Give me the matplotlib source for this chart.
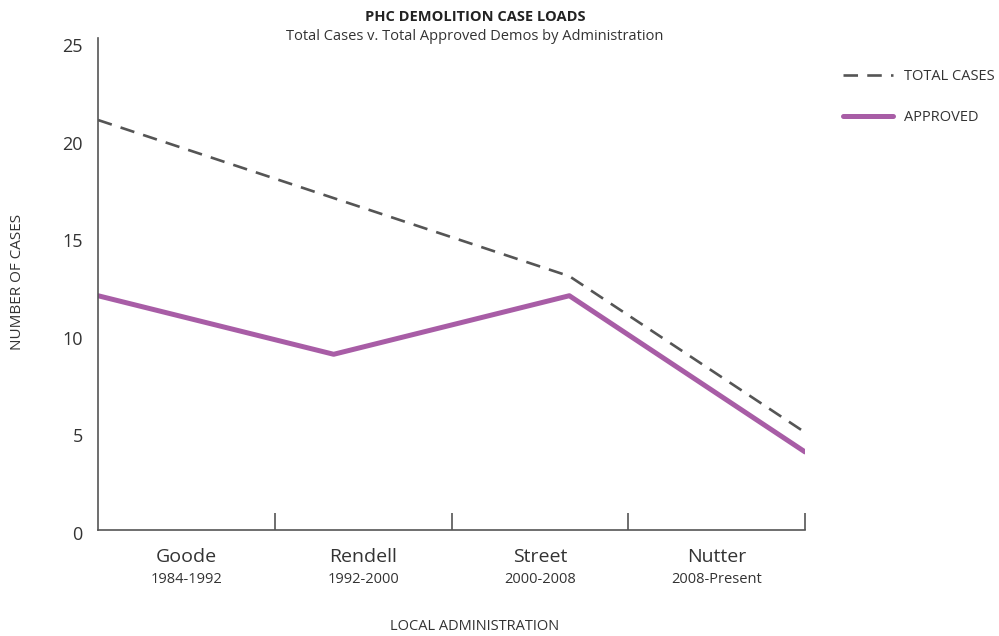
import matplotlib
matplotlib.use("Agg")
import matplotlib.pyplot as plt
from matplotlib.transforms import ScaledTranslation

plt.rcParams['font.family'] = ['Open Sans', 'DejaVu Sans']

administrations = ["Goode", "Rendell", "Street", "Nutter"]
years = ["1984-1992", "1992-2000", "2000-2008", "2008-Present"]
total_cases = [21, 17, 13, 5]
approved = [12, 9, 12, 4]
y_ticks = [0, 5, 10, 15, 20, 25]

W, H = 999, 636
fig = plt.figure(figsize=(W / 100, H / 100), dpi=100)
ax = fig.add_axes([98 / W, (H - 530) / H, 707 / W, (530 - 38) / H])

x = list(range(len(administrations)))
ax.plot(x, total_cases, color="#555555", lw=1.9, dashes=(5.5, 3.5), label="TOTAL CASES")
ax.plot(x, approved, color="#A85DA6", lw=3.6, solid_capstyle="round", label="APPROVED")

n = len(administrations)
span = n - 1
ax.set_xlim(0, span)
ax.set_ylim(0, 25.2)

ax.spines['top'].set_visible(False)
ax.spines['right'].set_visible(False)
for s in ['left', 'bottom']:
    ax.spines[s].set_color("#555555")
    ax.spines[s].set_linewidth(1.2)

ax.set_yticks(y_ticks)
ax.set_yticklabels([str(v) for v in y_ticks], fontsize=13, color="#333333")
ax.tick_params(axis='y', length=0, pad=11)
offset = ScaledTranslation(0, -3 / 100, fig.dpi_scale_trans)
for lab in ax.get_yticklabels():
    lab.set_verticalalignment('center_baseline')
    lab.set_transform(lab.get_transform() + offset)

band = span / n
ax.set_xticks([band * (i + 1) for i in range(n)])
ax.set_xticklabels([])
ax.tick_params(axis='x', direction='in', length=12, width=1.2, color="#555555")

for i, (name, yr) in enumerate(zip(administrations, years)):
    cx = band * (i + 0.5)
    ax.text(cx, -1.4, name, ha='center', va='center', fontsize=14, color="#333333")
    ax.text(cx, -2.55, yr, ha='center', va='center', fontsize=10.5, color="#333333")

fig.text(475 / W, 1 - 17 / H, "PHC DEMOLITION CASE LOADS", ha='center', va='center',
         fontsize=10.5, fontweight='bold', color="#222222")
fig.text(475 / W, 1 - 37 / H, "Total Cases v. Total Approved Demos by Administration",
         ha='center', va='center', fontsize=10.5, color="#333333")
fig.text(18 / W, 1 - 282 / H, "NUMBER OF CASES", rotation=90, ha='center', va='center',
         fontsize=11, color="#333333")
fig.text(475 / W, 1 - 627 / H, "LOCAL ADMINISTRATION", ha='center', va='center',
         fontsize=10.5, color="#333333")

leg = fig.legend(loc='upper left', bbox_to_anchor=(830 / W, 1 - 56 / H), frameon=False,
                 fontsize=10.5, handlelength=3.4, handletextpad=0.75, labelspacing=1.75)
for t in leg.get_texts():
    t.set_color("#333333")

fig.savefig("out.png", dpi=100)
